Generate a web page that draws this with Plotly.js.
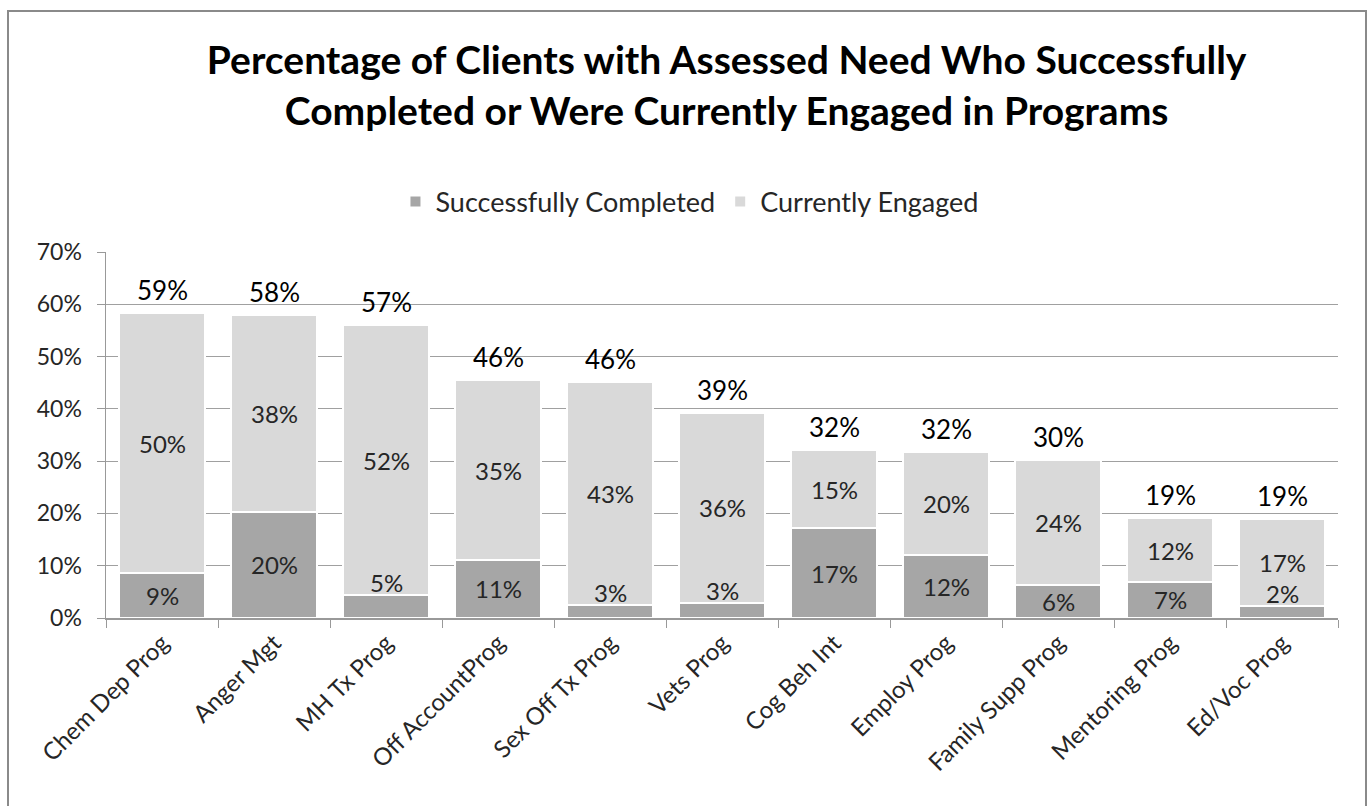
<!DOCTYPE html>
<html>
<head>
<meta charset="utf-8">
<script src="https://cdn.plot.ly/plotly-3.0.1.min.js"></script>
<style>
  html, body { margin: 0; padding: 0; background: #fff; }
  #wrap { position: relative; width: 1371px; height: 806px; overflow: hidden; }
  #chart { position: absolute; left: 0; top: 0; width: 1371px; height: 806px; }
  #frame { position: absolute; left: 7px; top: 10px; width: 1360px; height: 820px;
           border: 2px solid #8a8a8a; pointer-events: none; box-sizing: border-box; }
</style>
</head>
<body>
<div id="wrap">
  <div id="chart"></div>
  <div id="frame"></div>
</div>
<script>
// ---- data ----
const categories = ["Chem Dep Prog", "Anger Mgt", "MH Tx Prog", "Off AccountProg", "Sex Off Tx Prog",
                    "Vets Prog", "Cog Beh Int", "Employ Prog", "Family Supp Prog", "Mentoring Prog", "Ed/Voc Prog"];
const completed = [8.6, 20.3, 4.4, 11.1, 2.5, 2.9, 17.2, 12.0, 6.3, 6.9, 2.3];
const engaged   = [49.7, 37.7, 51.6, 34.4, 42.6, 36.3, 14.9, 19.7, 23.9, 12.2, 16.6];
const completedLabels = ["9%", "20%", "5%", "11%", "3%", "3%", "17%", "12%", "6%", "7%", "2%"];
const engagedLabels   = ["50%", "38%", "52%", "35%", "43%", "36%", "15%", "20%", "24%", "12%", "17%"];
const totalLabels     = ["59%", "58%", "57%", "46%", "46%", "39%", "32%", "32%", "30%", "19%", "19%"];
const yTickVals = [0, 10, 20, 30, 40, 50, 60, 70];
const yTickText = ["0%", "10%", "20%", "30%", "40%", "50%", "60%", "70%"];

const FONT = "Lato, 'Open Sans', sans-serif";
const colCompleted = "#a6a6a6";
const colEngaged = "#d9d9d9";

const traces = [
  { type: "bar", name: "Successfully Completed", x: categories, y: completed,
    marker: { color: colCompleted, line: { color: "#ffffff", width: 2 } }, hoverinfo: "x+y" },
  { type: "bar", name: "Currently Engaged", x: categories, y: engaged,
    marker: { color: colEngaged, line: { color: "#ffffff", width: 2 } }, hoverinfo: "x+y" }
];

const annotations = [];
categories.forEach((c, i) => {
  const small = completed[i] < 5.5;
  annotations.push({ x: c, y: small ? completed[i] : completed[i] / 2, xref: "x", yref: "y",
    text: completedLabels[i], showarrow: false, yanchor: small ? "bottom" : "middle",
    yshift: small ? -4 : 0, font: { family: FONT, size: 24, color: "#262626" } });
  annotations.push({ x: c, y: completed[i] + engaged[i] / 2, xref: "x", yref: "y",
    text: engagedLabels[i], showarrow: false, yanchor: "middle",
    font: { family: FONT, size: 24, color: "#262626" } });
  annotations.push({ x: c, y: completed[i] + engaged[i], xref: "x", yref: "y",
    text: totalLabels[i], showarrow: false, yanchor: "bottom", yshift: 5,
    font: { family: FONT, size: 26, color: "#000000" } });
});

const layout = {
  width: 1371, height: 806,
  margin: { l: 106, r: 33, t: 252, b: 188 },
  paper_bgcolor: "#ffffff", plot_bgcolor: "#ffffff",
  barmode: "stack", bargap: 0.23,
  font: { family: FONT, color: "#262626" },
  title: { text: "<b>Percentage of Clients with Assessed Need Who Successfully<br>Completed or Were Currently Engaged in Programs</b>",
           x: 0.53, xanchor: "center", y: 0.908, yanchor: "middle",
           font: { family: FONT, size: 39, color: "#000000" } },
  legend: { orientation: "h", x: 0.474, xanchor: "center", y: 1.137, yanchor: "middle",
            font: { family: FONT, size: 27, color: "#262626" }, itemwidth: 30, traceorder: "normal" },
  xaxis: { type: "category", tickangle: -45, tickfont: { family: FONT, size: 24, color: "#262626" },
           showline: true, linecolor: "#999999", linewidth: 1.5, ticks: "outside", tickson: "boundaries",
           ticklen: 8, tickcolor: "#999999", showgrid: false, fixedrange: true },
  yaxis: { range: [0, 70], tickvals: yTickVals, ticktext: yTickText,
           tickfont: { family: FONT, size: 23, color: "#262626" },
           showline: true, linecolor: "#999999", linewidth: 1.5, ticks: "outside", ticklen: 8,
           tickcolor: "#999999", showgrid: true, gridcolor: "#a0a0a0", gridwidth: 1.2,
           zeroline: false, ticklabelstandoff: 10, fixedrange: true },
  annotations: annotations,
  showlegend: true
};

Plotly.newPlot("chart", traces, layout, { displayModeBar: false, staticPlot: true });
</script>
</body>
</html>
